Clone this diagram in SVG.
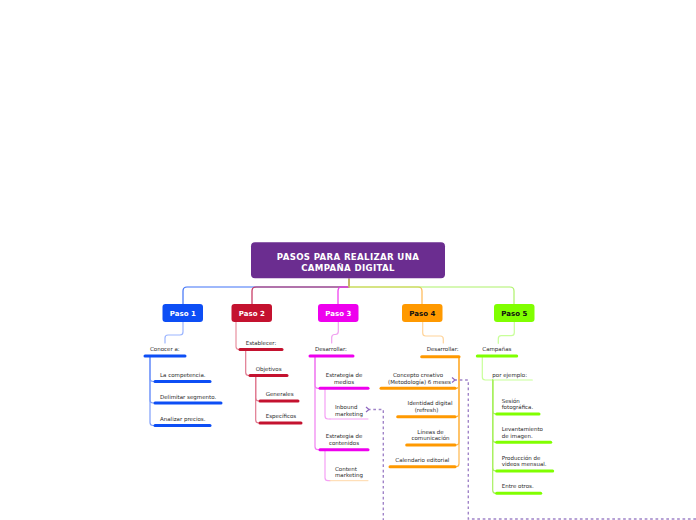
<svg xmlns="http://www.w3.org/2000/svg" width="696" height="520" viewBox="0 0 696 520">
<style>
.t{font-family:"DejaVu Sans",Verdana,sans-serif;font-size:5.5px;fill:#2a2a2a}
.m{text-anchor:middle}
.title{font-family:"DejaVu Sans",Verdana,sans-serif;font-size:8.6px;font-weight:bold;fill:#fff;text-anchor:middle;letter-spacing:0.35px}
.pt{font-family:"DejaVu Sans",Verdana,sans-serif;font-size:7px;font-weight:bold;text-anchor:middle}
.c{fill:none;stroke-width:1.2;stroke-linecap:round;stroke-linejoin:round}
.u{fill:none;stroke-width:3;stroke-linecap:round}
.thin{fill:none;stroke-width:1;stroke-linecap:round}
.d{fill:none;stroke:#a084c8;stroke-width:1.4;stroke-dasharray:2.7 2.7}
.b1{stroke:#0d4ef5}.b2{stroke:#c4122f}.b3{stroke:#ee00ee}.b4{stroke:#ff9900}.b5{stroke:#80ff00}
</style>
<defs>
<marker id="arr" markerUnits="userSpaceOnUse" markerWidth="6" markerHeight="7" refX="0.5" refY="3" orient="auto">
<path d="M3.5,0.5 L0.5,3 L3.5,5.5" fill="none" stroke="#8f66c0" stroke-width="1.2"/>
</marker>
</defs>

<g id="connectors">
<!-- root to steps -->
<path class="c" stroke="#3f72f7" d="M349,279 V287 H187 Q183,287 183,291 V304"/>
<path class="c" stroke="#c42f5c" d="M349,279 V287 H256 Q252,287 252,291 V304"/>
<path class="c" stroke="#ee33ee" d="M349,279 V287 H342 Q338,287 338,291 V304"/>
<path class="c" stroke="#ffb040" opacity="0.9" d="M349,279 V287 H418 Q422,287 422,291 V304"/>
<path class="c" stroke="#a0f050" opacity="0.85" d="M349,279 V287 H510 Q514,287 514,291 V304"/>

<!-- Paso 1 -->
<path class="c" stroke="#9bb5ff" d="M183,322 V332 Q183,335 180,335 H168 Q165,335 165,338 V343"/>
<path class="c" stroke="#7f9ffa" d="M150,356 V378.5 Q150,381.5 153,381.5 H155"/>
<path class="c" stroke="#7f9ffa" d="M150,356 V400 Q150,403 153,403 H155"/>
<path class="c" stroke="#7f9ffa" d="M150,356 V422.5 Q150,425.5 153,425.5 H155"/>

<!-- Paso 2 -->
<path class="c" stroke="#e8909f" d="M236,322 V346.5 Q236,349.5 239,349.5 H240"/>
<path class="c" stroke="#e07a90" d="M245.7,349.5 V372.5 Q245.7,375.5 248.7,375.5 H250"/>
<path class="c" stroke="#e07a90" d="M255.7,375.5 V398 Q255.7,401 258.7,401 H260"/>
<path class="c" stroke="#e07a90" d="M255.7,375.5 V420 Q255.7,423 258.7,423 H260"/>

<!-- Paso 3 -->
<path class="c" stroke="#f0a0f0" d="M338.3,322 V331.5 Q338.3,334.5 335.3,334.5 H334.7 Q331.7,334.5 331.7,337.5 V343"/>
<path class="c" stroke="#f080f0" d="M315,356 V385.3 Q315,388.3 318,388.3 H320"/>
<path class="c" stroke="#f080f0" d="M315,356 V446.7 Q315,449.7 318,449.7 H320"/>
<path class="c" stroke="#f5a0f5" d="M325,388.3 V416 Q325,419 328,419 H330"/>
<path class="c" stroke="#f5a0f5" d="M325,449.7 V477.7 Q325,480.7 328,480.7 H330"/>

<!-- Paso 4 -->
<path class="c" stroke="#ffd49a" d="M422.7,322 V333 Q422.7,336 425.7,336 H440.3 Q443.3,336 443.3,339 V343"/>
<path class="c" stroke="#ffb84d" d="M459,356.7 V385.3 Q459,388.3 456,388.3 H455"/>
<path class="c" stroke="#ffb84d" d="M459,356.7 V413.7 Q459,416.7 456,416.7 H455"/>
<path class="c" stroke="#ffb84d" d="M459,356.7 V442 Q459,445 456,445 H455"/>
<path class="c" stroke="#ffb84d" d="M459,356.7 V463.7 Q459,466.7 456,466.7 H455"/>

<!-- Paso 5 -->
<path class="c" stroke="#c8ff99" d="M514.3,322 V332.7 Q514.3,335.7 511.3,335.7 H501.3 Q498.3,335.7 498.3,338.7 V343.3"/>
<path class="c" stroke="#c8ff99" d="M482.3,356 V377 Q482.3,380 485.3,380 H532.3"/>
<path class="c" stroke="#a8f060" d="M492.7,380 V411 Q492.7,414 495.7,414 H496.7"/>
<path class="c" stroke="#a8f060" d="M492.7,380 V439.3 Q492.7,442.3 495.7,442.3 H496.7"/>
<path class="c" stroke="#a8f060" d="M492.7,380 V468 Q492.7,471 495.7,471 H496.7"/>
<path class="c" stroke="#a8f060" d="M492.7,380 V490.3 Q492.7,493.3 495.7,493.3 H496.7"/>

<!-- relationships -->
<path class="d" d="M696,519 H468.3 V380 H455" marker-end="url(#arr)"/>
<path class="d" d="M383.3,521 V409.5 H369" marker-end="url(#arr)"/>
</g>

<g id="root">
<rect x="251" y="242.3" width="194" height="36" rx="4" fill="#6b2d90"/>
<text class="title" x="348" y="260.3">PASOS PARA REALIZAR UNA</text>
<text class="title" x="348" y="270.8">CAMPAÑA DIGITAL</text>
</g>

<g id="paso1">
<rect x="162.5" y="304" width="40.5" height="18" rx="3" fill="#0d4ef5"/>
<text class="pt" x="182.8" y="315.6" fill="#fff">Paso 1</text>
</g>
<g id="p1-conocer"><path class="u b1" d="M145,356 H185"/><text class="t" x="150" y="351">Conocer a:</text></g>
<g id="p1-competencia"><path class="u b1" d="M155,381.5 H210"/><text class="t" x="160" y="377">La competencia.</text></g>
<g id="p1-segmento"><path class="u b1" d="M155,403 H221"/><text class="t" x="160" y="399">Delimitar segmento.</text></g>
<g id="p1-precios"><path class="u b1" d="M155,425.5 H210"/><text class="t" x="160" y="421">Analizar precios.</text></g>

<g id="paso2">
<rect x="231.5" y="304" width="40.5" height="18" rx="3" fill="#c4122f"/>
<text class="pt" x="251.8" y="315.6" fill="#fff">Paso 2</text>
</g>
<g id="p2-establecer"><path class="u b2" d="M240,349.5 H282"/><text class="t" x="245.7" y="345">Establecer:</text></g>
<g id="p2-objetivos"><path class="u b2" d="M250,375.5 H287"/><text class="t" x="255.7" y="371">Objetivos</text></g>
<g id="p2-generales"><path class="u b2" d="M260,401 H298"/><text class="t" x="265.7" y="396">Generales</text></g>
<g id="p2-especificos"><path class="u b2" d="M260,423 H301"/><text class="t" x="265.7" y="418">Específicos</text></g>

<g id="paso3">
<rect x="318" y="304" width="40.5" height="18" rx="3" fill="#ee00ee"/>
<text class="pt" x="338.3" y="315.6" fill="#fff">Paso 3</text>
</g>
<g id="p3-desarrollar"><path class="u b3" d="M310,356 H353"/><text class="t" x="315" y="351">Desarrollar:</text></g>
<g id="p3-medios"><path class="u b3" d="M320,388.3 H368"/><text class="t m" x="344" y="377">Estrategia de</text><text class="t m" x="344" y="383.5">medios</text></g>
<g id="p3-inbound"><path class="thin" stroke="#f5a0f5" d="M330,419 H368"/><text class="t" x="335" y="409.3">Inbound</text><text class="t" x="335" y="416">marketing</text></g>
<g id="p3-contenidos"><path class="u b3" d="M320,449.7 H368"/><text class="t m" x="344" y="438">Estrategia de</text><text class="t m" x="344" y="444.5">contenidos</text></g>
<g id="p3-content"><path class="thin" stroke="#ffd8a8" d="M330,480.7 H368"/><text class="t" x="335" y="471">Content</text><text class="t" x="335" y="477.4">marketing</text></g>

<g id="paso4">
<rect x="402" y="304" width="40.5" height="18" rx="3" fill="#ff9900"/>
<text class="pt" x="422.3" y="315.6" fill="#111">Paso 4</text>
</g>
<g id="p4-desarrollar"><path class="u b4" d="M421.7,356.7 H459"/><text class="t" x="426.7" y="351.3">Desarrollar:</text></g>
<g id="p4-concepto"><path class="u b4" d="M381,388.3 H455"/><text class="t m" x="418" y="377">Concepto creativo</text><text class="t m" x="419.5" y="383.5">(Metodología) 6 meses</text></g>
<g id="p4-identidad"><path class="u b4" d="M397.7,416.7 H455"/><text class="t m" x="430" y="405.3">Identidad digital</text><text class="t m" x="426.5" y="411.8">(refresh)</text></g>
<g id="p4-lineas"><path class="u b4" d="M406.7,445 H455"/><text class="t m" x="430.5" y="433.7">Líneas de</text><text class="t m" x="430.5" y="440">comunicación</text></g>
<g id="p4-calendario"><path class="u b4" d="M390,466.7 H455"/><text class="t m" x="422.3" y="462">Calendario editorial</text></g>

<g id="paso5">
<rect x="494" y="304" width="40.5" height="18" rx="3" fill="#80ff00"/>
<text class="pt" x="514.3" y="315.6" fill="#111">Paso 5</text>
</g>
<g id="p5-campanas"><path class="u b5" d="M477.3,356 H516.7"/><text class="t" x="482.3" y="351">Campañas</text></g>
<g id="p5-ejemplo"><text class="t" x="492.3" y="377">por ejemplo:</text></g>
<g id="p5-sesion"><path class="u b5" d="M496.7,414 H539"/><text class="t" x="501.7" y="403">Sesión</text><text class="t" x="501.7" y="409.4">fotográfica.</text></g>
<g id="p5-levantamiento"><path class="u b5" d="M496.7,442.3 H550.7"/><text class="t" x="501.7" y="431">Levantamiento</text><text class="t" x="501.7" y="437.6">de imagen.</text></g>
<g id="p5-produccion"><path class="u b5" d="M496.7,471 H552.7"/><text class="t" x="501.7" y="459.7">Producción de</text><text class="t" x="501.7" y="466.2">videos mensual.</text></g>
<g id="p5-otros"><path class="u b5" d="M496.7,493.3 H540.7"/><text class="t" x="501.7" y="488">Entre otros.</text></g>
</svg>
